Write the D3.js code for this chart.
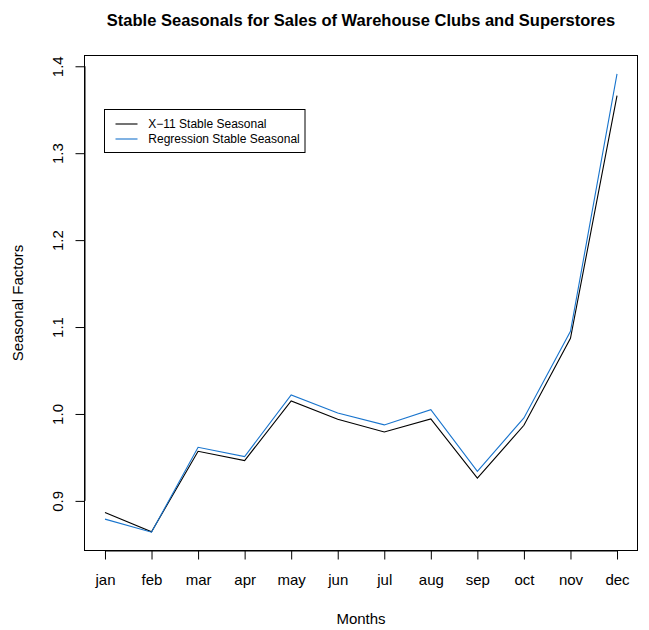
<!DOCTYPE html>
<html>
<head>
<meta charset="utf-8">
<script src="https://cdn.jsdelivr.net/npm/d3@7"></script>
<style>
  html, body { margin: 0; padding: 0; background: #fff; }
  svg { display: block; font-family: "Liberation Sans", Arial, Helvetica, sans-serif; }
</style>
</head>
<body>
<svg id="chart" width="649" height="630"></svg>
<script>
// month categories and the two seasonal factor series
const months = ["jan", "feb", "mar", "apr", "may", "jun", "jul", "aug", "sep", "oct", "nov", "dec"];
const x11Stable = [0.8867, 0.8645, 0.9570, 0.9464, 1.0149, 0.9939, 0.9793, 0.9943, 0.9261, 0.9870, 1.0870, 1.3663];
const regStable = [0.8790, 0.8640, 0.9617, 0.9510, 1.0218, 1.0012, 0.9874, 1.0050, 0.9340, 0.9954, 1.0950, 1.3913];
const yTicks = [0.9, 1.0, 1.1, 1.2, 1.3, 1.4];
const legendLabels = ["X\u221211 Stable Seasonal", "Regression Stable Seasonal"];

const colors = ["#000000", "#1874CD"];

const svg = d3.select("#chart");
const pLeft = 84.5, pRight = 637.5, pTop = 55.5, pBottom = 550.5;

// R style axis limits: data range padded by 4%
const padX = (months.length - 1) * 0.04;
const xScale = d3.scaleLinear()
    .domain([1 - padX, months.length + padX])
    .range([pLeft, pRight]);

const allVals = x11Stable.concat(regStable);
const [lo, hi] = d3.extent(allVals);
const padY = (hi - lo) * 0.04;
const yScale = d3.scaleLinear()
    .domain([lo - padY, hi + padY])
    .range([pBottom, pTop]);

// title
svg.append("text")
    .attr("x", (pLeft + pRight) / 2)
    .attr("y", 25.5)
    .attr("text-anchor", "middle")
    .attr("font-weight", "bold")
    .attr("font-size", 16.5)
    .text("Stable Seasonals for Sales of Warehouse Clubs and Superstores");

// lines
const line = d3.line()
    .x((d, i) => xScale(i + 1))
    .y(d => yScale(d));

[x11Stable, regStable].forEach((series, k) => {
    svg.append("path")
        .datum(series)
        .attr("d", line)
        .attr("fill", "none")
        .attr("stroke", colors[k])
        .attr("stroke-width", 1.1);
});

// plot box
svg.append("rect")
    .attr("x", pLeft)
    .attr("y", pTop)
    .attr("width", pRight - pLeft)
    .attr("height", pBottom - pTop)
    .attr("fill", "none")
    .attr("stroke", "#000")
    .attr("stroke-width", 1);

// x axis
const xAxis = d3.axisBottom(xScale)
    .tickValues(d3.range(1, months.length + 1))
    .tickFormat(d => months[d - 1])
    .tickSize(9)
    .tickPadding(0);

const gx = svg.append("g")
    .attr("transform", "translate(0," + pBottom + ")")
    .call(xAxis);
gx.select(".domain")
    .attr("d", "M" + xScale(1) + ",0.5H" + xScale(months.length));
gx.selectAll(".tick text")
    .attr("y", 34.5)
    .attr("dy", null)
    .attr("font-size", 15)
    .attr("font-family", "Liberation Sans, Arial, sans-serif")
    .attr("fill", "#000");

// y axis
const yAxis = d3.axisLeft(yScale)
    .tickValues(yTicks)
    .tickFormat(d3.format(".1f"))
    .tickSize(9);

const gy = svg.append("g")
    .attr("transform", "translate(" + pLeft + ",0)")
    .call(yAxis);
gy.select(".domain")
    .attr("d", "M0.5," + yScale(yTicks[0]) + "V" + yScale(yTicks[yTicks.length - 1]));
gy.selectAll(".tick text")
    .attr("x", null)
    .attr("dy", null)
    .attr("transform", "translate(-22,0) rotate(-90)")
    .attr("text-anchor", "middle")
    .attr("font-size", 15)
    .attr("font-family", "Liberation Sans, Arial, sans-serif")
    .attr("fill", "#000");

// axis titles
svg.append("text")
    .attr("x", (pLeft + pRight) / 2)
    .attr("y", 623.5)
    .attr("text-anchor", "middle")
    .attr("font-size", 15)
    .text("Months");

svg.append("text")
    .attr("transform", "translate(23," + ((pTop + pBottom) / 2) + ") rotate(-90)")
    .attr("text-anchor", "middle")
    .attr("font-size", 15)
    .text("Seasonal Factors");

// legend
const legend = svg.append("g");
legend.append("rect")
    .attr("x", 104.5)
    .attr("y", 109.5)
    .attr("width", 200.5)
    .attr("height", 43)
    .attr("fill", "#fff")
    .attr("stroke", "#000")
    .attr("stroke-width", 1);

legendLabels.forEach((lab, k) => {
    const y = 124 + k * 15;
    legend.append("line")
        .attr("x1", 115.5).attr("x2", 137.5)
        .attr("y1", y).attr("y2", y)
        .attr("stroke", colors[k])
        .attr("stroke-width", 1.1);
    legend.append("text")
        .attr("x", 148.3)
        .attr("y", y + 4.2)
        .attr("font-size", 12)
        .text(lab);
});
</script>
</body>
</html>
